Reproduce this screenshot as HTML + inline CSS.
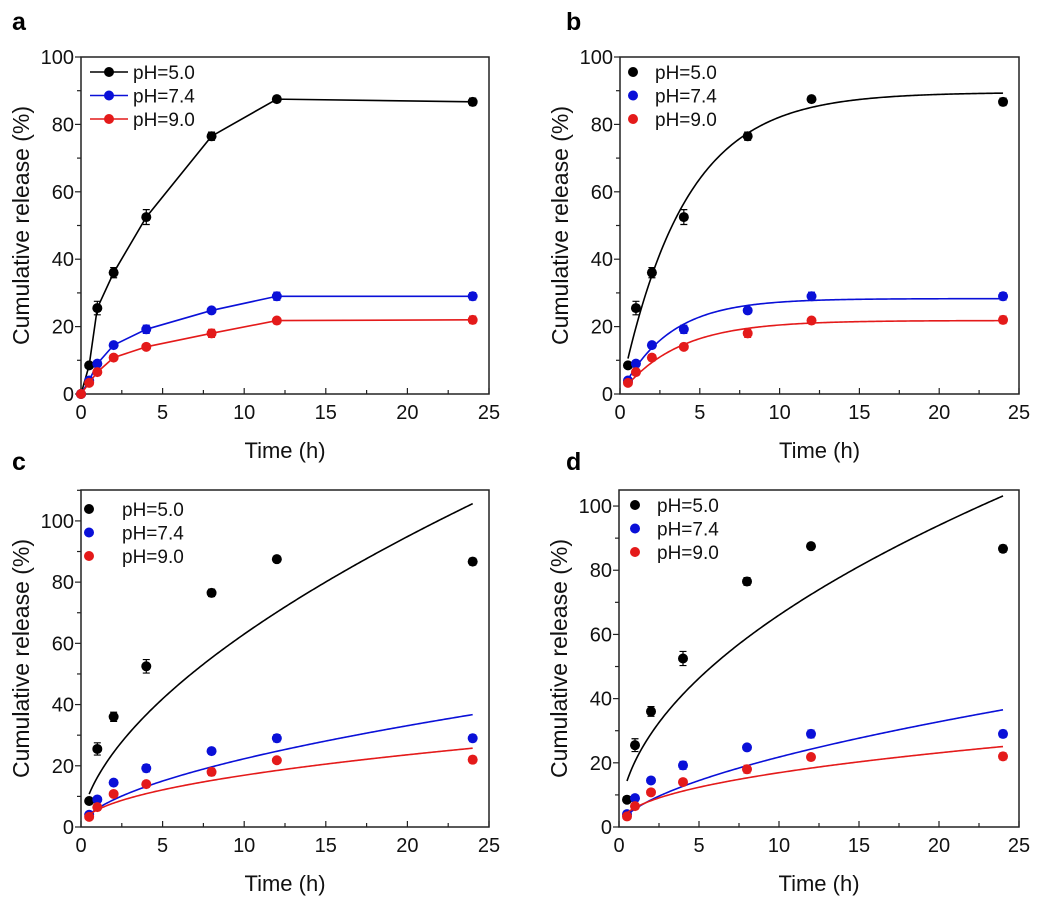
<!DOCTYPE html>
<html><head><meta charset="utf-8"><style>
html,body{margin:0;padding:0;background:#fff;}
svg{display:block;font-family:"Liberation Sans",Arial,sans-serif;}
</style></head><body>
<svg id="fig" width="1052" height="904" viewBox="0 0 1052 904"></svg>
<script>
const times = [0, 0.5, 1, 2, 4, 8, 12, 24];
const ph5 = [0, 8.5, 25.5, 36, 52.5, 76.5, 87.5, 86.7];
const ph74 = [0, 4, 9, 14.5, 19.2, 24.8, 29, 29];
const ph9 = [0, 3.3, 6.5, 10.8, 14, 18, 21.8, 22];
const err5 = [0, 0.8, 2, 1.5, 2.2, 1.2, 0.9, 1.1];
const err74 = [0, 0.5, 0.8, 0.8, 1.2, 0.8, 1.2, 1.1];
const err9 = [0, 0.5, 0.8, 0.8, 0.8, 1.2, 0.8, 1.1];
const seriesNames = ["pH=5.0", "pH=7.4", "pH=9.0"];
const seriesColors = ["#000000", "#0a10d8", "#e41a1a"];
const xTicks = [0, 5, 10, 15, 20, 25];
const yTicksAB = [0, 20, 40, 60, 80, 100];
// first-order fit params (panel b): A, k
const fitB_A = [89.5, 28.3, 21.8];
const fitB_k = [0.25, 0.33, 0.28];
// power-law fit params (panel c, d): k, n
const fitC_k = [16.2, 6.0, 5.6];
const fitC_n = [0.59, 0.57, 0.48];
const fitD_k = [20.4, 5.6, 6.0];
const fitD_n = [0.51, 0.59, 0.45];

const NS = "http://www.w3.org/2000/svg";
const svg = document.getElementById("fig");
function el(tag, attrs, parent) {
  const e = document.createElementNS(NS, tag);
  for (const k in attrs) e.setAttribute(k, attrs[k]);
  (parent || svg).appendChild(e);
  return e;
}
const panels = [
  {id:"a", x0:81, x1:489, yb:394, yt:57, ymax:100, yticks:yTicksAB, mode:"line", lx:90, ly:72, letter:[12,30]},
  {id:"b", x0:620, x1:1019, yb:394, yt:57, ymax:100, yticks:yTicksAB, mode:"fitB", lx:633, ly:72, letter:[566,30]},
  {id:"c", x0:81, x1:489, yb:827, yt:490, ymax:110.1, yticks:yTicksAB, mode:"fitC", lx:89, ly:509, letter:[12,470]},
  {id:"d", x0:619, x1:1019, yb:827, yt:490, ymax:105, yticks:yTicksAB, mode:"fitD", lx:635, ly:505, letter:[566,470]}
];
const datasets = [ph5, ph74, ph9];
const errs = [err5, err74, err9];

panels.forEach(p => {
  const g = el("g", {});
  
  
  const sx = t => p.x0 + (t / 25) * (p.x1 - p.x0);
  const sy = v => p.yb - (v / p.ymax) * (p.yb - p.yt);
  const lt = el("text", {x:p.letter[0], y:p.letter[1], "font-size":"25", "font-weight":"bold"}, g);
  lt.textContent = p.id;
  
  
  const frame = el("rect", {x:p.x0, y:p.yt, width:p.x1-p.x0, height:p.yb-p.yt, fill:"none", stroke:"#222", "stroke-width":"1.5"}, g);
  
  
  for (let t = 0; t <= 25; t += 2.5) {
    const major = t % 5 === 0;
    el("line", {x1:sx(t), x2:sx(t), y1:p.yb, y2:p.yb - (major ? 6 : 4), stroke:"#222", "stroke-width":"1.2"}, g);
  }
  xTicks.forEach(t => {
    const tx = el("text", {x:sx(t), y:p.yb+25, "font-size":"20", "text-anchor":"middle", fill:"#111"}, g);
    tx.textContent = t;
    
    
  });
  for (let v = 0; v <= p.ymax; v += 10) {
    const major = v % 20 === 0;
    el("line", {x1:p.x0, x2:p.x0 - (major ? 6 : 4), y1:sy(v), y2:sy(v), stroke:"#222", "stroke-width":"1.2"}, g);
  }
  p.yticks.forEach(v => {
    const ty = el("text", {x:p.x0-7, y:sy(v)+7, "font-size":"20", "text-anchor":"end", fill:"#111"}, g);
    ty.textContent = v;
    
    
  });
  const xl = el("text", {x:(p.x0+p.x1)/2, y:p.yb+64, "font-size":"22", "text-anchor":"middle", fill:"#111"}, g);
  xl.textContent = "Time (h)";
  
  
  const ycx = p.x0 - 52, ycy = (p.yt+p.yb)/2;
  const yl = el("text", {x:ycx, y:ycy, "font-size":"23", "text-anchor":"middle", fill:"#111", transform:`rotate(-90 ${ycx} ${ycy})`}, g);
  yl.textContent = "Cumulative release (%)";
  
  

  datasets.forEach((d, si) => {
    const col = seriesColors[si];
    const start = p.mode === "line" ? 0 : 1;
    if (p.mode === "line") {
      const pts = times.map((t,i) => sx(t)+","+sy(d[i])).join(" ");
      const pl = el("polyline", {points:pts, fill:"none", stroke:col, "stroke-width":"1.6"}, g);
      
      
    } else {
      const pts = [];
      for (let t = 0.5; t <= 24.001; t += 0.1) {
        let v;
        if (p.mode === "fitB") v = fitB_A[si] * (1 - Math.exp(-fitB_k[si] * t));
        else if (p.mode === "fitC") v = fitC_k[si] * Math.pow(t, fitC_n[si]);
        else v = fitD_k[si] * Math.pow(t, fitD_n[si]);
        pts.push(sx(t)+","+sy(v));
      }
      const pl = el("polyline", {points:pts.join(" "), fill:"none", stroke:col, "stroke-width":"1.6"}, g);
      
      
    }
    for (let i = start; i < times.length; i++) {
      const cx = sx(times[i]), cy = sy(d[i]), e = errs[si][i];
      if (e > 0) {
        const y1 = sy(d[i]+e), y2 = sy(d[i]-e);
        el("path", {d:`M${cx},${y1}V${y2}M${cx-3.5},${y1}H${cx+3.5}M${cx-3.5},${y2}H${cx+3.5}`, stroke:col, "stroke-width":"1.2", fill:"none"}, g);
      }
      const c = el("circle", {cx:cx, cy:cy, r:5, fill:col}, g);
      
      
    }
    const ly = p.ly + si * 23.5;
    const lg = el("g", {}, g);
    
    
    let tx;
    if (p.mode === "line") {
      el("line", {x1:p.lx, x2:p.lx+38, y1:ly, y2:ly, stroke:col, "stroke-width":"1.6"}, lg);
      el("circle", {cx:p.lx+19, cy:ly, r:5, fill:col}, lg);
      tx = p.lx + 43;
    } else {
      el("circle", {cx:p.lx, cy:ly, r:5, fill:col}, lg);
      tx = p.lx + (p.id === "c" ? 33 : 22);
    }
    const t = el("text", {x:tx, y:ly+7, "font-size":"19", fill:"#111"}, lg);
    t.textContent = seriesNames[si];
  });
});
</script>
</body></html>
